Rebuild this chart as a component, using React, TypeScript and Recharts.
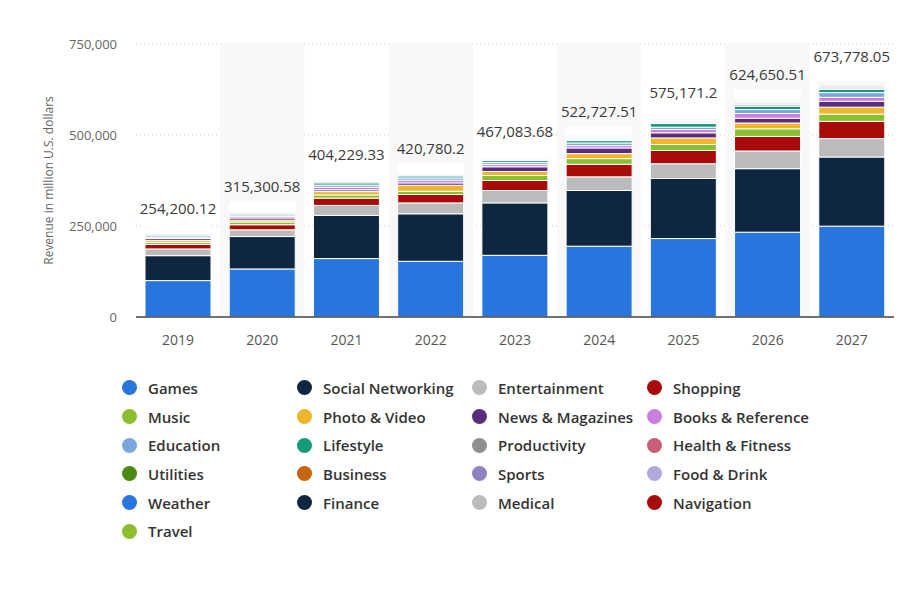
import React from 'react';
import { BarChart, Bar, XAxis, YAxis, CartesianGrid, ReferenceArea, LabelList } from 'recharts';

const years = ['2019', '2020', '2021', '2022', '2023', '2024', '2025', '2026', '2027'];
const totals = [254200.12, 315300.58, 404229.33, 420780.2, 467083.68, 522727.51, 575171.2, 624650.51, 673778.05];
const totalLabels = ['254,200.12', '315,300.58', '404,229.33', '420,780.2', '467,083.68', '522,727.51', '575,171.2', '624,650.51', '673,778.05'];
const yTicks = [0, 250000, 500000, 750000];
const shadedYears = ['2020', '2022', '2024', '2026'];

const games = [100000, 132000, 160500, 153000, 169500, 194500, 215500, 233000, 249500];
const socialNetworking = [68500, 89000, 118500, 130500, 144000, 153000, 165000, 174500, 190000];
const entertainment = [18500, 18500, 27500, 30000, 34000, 37500, 40500, 48500, 50500];
const shopping = [12500, 14000, 20000, 23000, 27500, 34500, 36500, 40000, 47500];
const music = [6000, 7500, 9000, 9000, 13800, 15600, 16500, 21000, 20000];
const photoVideo = [5000, 5000, 9000, 16500, 11000, 13800, 18000, 16000, 19000];
const newsMagazines = [5000, 6000, 5000, 6400, 12900, 15600, 14000, 13000, 16000];
const booksReference = [4000, 4500, 7000, 7300, 6000, 6400, 9000, 13000, 11000];
const education = [4000, 4000, 6000, 6400, 5500, 7300, 6500, 11000, 13000];
const lifestyle = [4000, 3000, 6000, 5500, 5500, 6400, 10000, 9000, 9000];
const productivity = [2000, 2000, 3000, 2000, 2000, 3000, 2500, 4000, 3500];
const healthFitness = [1500, 1500, 2000, 1500, 1000, 2000, 2500, 2500, 3000];
const utilities = [1000, 1000, 1500, 1000, 1000, 2000, 1500, 2500, 2500];
const business = [1000, 700, 1500, 1000, 1000, 2000, 1500, 2000, 2500];
const sports = [500, 500, 1000, 800, 1000, 2000, 1500, 2000, 2000];
const foodDrink = [500, 500, 1000, 800, 1000, 2000, 1500, 2000, 2000];
const weather = [500, 300, 1000, 700, 800, 1500, 1000, 1500, 2000];
const finance = [300, 300, 500, 500, 800, 1500, 1000, 1500, 2000];
const medical = [300, 300, 500, 500, 600, 1000, 1000, 1000, 2000];
const navigation = [300, 300, 500, 500, 400, 1000, 1000, 1000, 1500];
const travel = [300, 300, 500, 500, 400, 1000, 1000, 1000, 1500];

const seriesNames = [
  'Games', 'Social Networking', 'Entertainment', 'Shopping',
  'Music', 'Photo & Video', 'News & Magazines', 'Books & Reference',
  'Education', 'Lifestyle', 'Productivity', 'Health & Fitness',
  'Utilities', 'Business', 'Sports', 'Food & Drink',
  'Weather', 'Finance', 'Medical', 'Navigation',
  'Travel',
];
const seriesValues = [
  games, socialNetworking, entertainment, shopping,
  music, photoVideo, newsMagazines, booksReference,
  education, lifestyle, productivity, healthFitness,
  utilities, business, sports, foodDrink,
  weather, finance, medical, navigation,
  travel,
];
const seriesColors = [
  '#2876dd', '#0f2640', '#bbbbbb', '#a90b0b',
  '#8cbf2e', '#efb52b', '#5b2c7c', '#c97ee0',
  '#7aa7e0', '#139a7a', '#909090', '#c85f79',
  '#4a8a10', '#c8640e', '#9180c0', '#b0a9dc',
  '#2876dd', '#0f2640', '#bbbbbb', '#a90b0b',
  '#8cbf2e',
];

const data = years.map((year, i) => {
  const row: Record<string, any> = { year, label: totalLabels[i] };
  let sum = 0;
  seriesNames.forEach((name, k) => {
    row[name] = seriesValues[k][i];
    sum += seriesValues[k][i];
  });
  row.Other = Math.max(0, totals[i] - sum);
  return row;
});

const FONT = '"Open Sans", "DejaVu Sans", sans-serif';

const renderTotal = (props: any) => {
  const { x, y, width, value } = props;
  return (
    <text x={x + width / 2} y={y - 10} textAnchor="middle" fontSize={15} fill="#3a3a3a" fontFamily={FONT}>
      {value}
    </text>
  );
};

const renderYLabel = (props: any) => {
  const { viewBox } = props;
  const cx = viewBox.x - 28;
  const cy = viewBox.y + viewBox.height / 2;
  return (
    <text
      x={cx}
      y={cy}
      transform={`rotate(-90 ${cx} ${cy})`}
      textAnchor="middle"
      dominantBaseline="central"
      fontSize={12}
      fill="#666"
      fontFamily={FONT}
    >
      Revenue in million U.S. dollars
    </text>
  );
};

export default function App() {
  return (
    <div style={{ position: 'absolute', left: 0, top: 0, width: 912, height: 591, background: '#fff', fontFamily: FONT }}>
      <BarChart
        width={912}
        height={591}
        data={data}
        margin={{ top: 44, right: 18, left: 76, bottom: 244 }}
      >
        {shadedYears.map((y) => (
          <ReferenceArea key={y} x1={y} x2={y} fill="#f8f8f8" fillOpacity={1} stroke="none" ifOverflow="visible" />
        ))}
        <CartesianGrid vertical={false} stroke="#c8c8c8" strokeDasharray="1 3" />
        <XAxis
          dataKey="year"
          height={30}
          tickLine={false}
          tickSize={0}
          tickMargin={18}
          axisLine={{ stroke: '#444', strokeWidth: 1.5 }}
          tick={{ fontSize: 14, fill: '#555', fontFamily: FONT }}
        />
        <YAxis
          width={60}
          domain={[0, 750000]}
          ticks={yTicks}
          interval={0}
          axisLine={false}
          tickLine={false}
          tickSize={0}
          tickMargin={19}
          tickFormatter={(v: number) => v.toLocaleString('en-US')}
          tick={{ fontSize: 13, fill: '#666', fontFamily: FONT }}
          label={{ content: renderYLabel }}
        />
        {seriesNames.map((name, k) => (
          <Bar
            key={name}
            dataKey={name}
            stackId="a"
            fill={seriesColors[k]}
            stroke="#fff"
            strokeWidth={1}
            barSize={66}
            isAnimationActive={false}
          />
        ))}
        <Bar dataKey="Other" stackId="a" fill="#ffffff" stroke="#fff" strokeWidth={1} barSize={66} isAnimationActive={false}>
          <LabelList dataKey="label" content={renderTotal} />
        </Bar>
      </BarChart>
      <div
        style={{
          position: 'absolute',
          left: 122,
          top: 373.5,
          display: 'grid',
          gridTemplateColumns: 'repeat(4, 175px)',
          gridAutoRows: '28.7px',
        }}
      >
        {seriesNames.map((name, k) => (
          <div key={name} style={{ display: 'flex', alignItems: 'center', height: 28.7 }}>
            <span
              style={{
                display: 'inline-block',
                width: 15,
                height: 15,
                borderRadius: '50%',
                background: seriesColors[k],
                marginRight: 11,
                flexShrink: 0,
              }}
            />
            <span style={{ fontSize: 15, fontWeight: 600, color: '#333', fontFamily: FONT, whiteSpace: 'nowrap' }}>{name}</span>
          </div>
        ))}
      </div>
    </div>
  );
}
